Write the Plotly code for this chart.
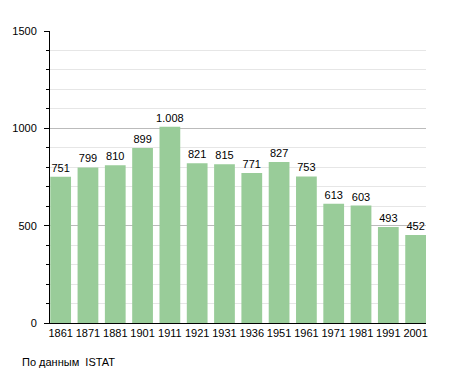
import plotly.graph_objects as go

years = ["1861", "1871", "1881", "1901", "1911", "1921", "1931", "1936", "1951", "1961", "1971", "1981", "1991", "2001"]
population = [751, 799, 810, 899, 1008, 821, 815, 771, 827, 753, 613, 603, 493, 452]
labels = ["751", "799", "810", "899", "1.008", "821", "815", "771", "827", "753", "613", "603", "493", "452"]
y_ticks = [0, 500, 1000, 1500]

fig = go.Figure()
fig.add_trace(go.Bar(
    x=years, y=population, text=labels, textposition="outside",
    textangle=0, constraintext="none",
    textfont=dict(size=11, color="black", family="Liberation Sans, Arial, sans-serif"),
    marker=dict(color="#99cc99", line=dict(width=0)),
    cliponaxis=False,
))

fig.update_layout(
    width=447, height=365,
    margin=dict(l=42, r=29, t=23, b=50, autoexpand=False),
    paper_bgcolor="white", plot_bgcolor="white",
    bargap=0.24,
    showlegend=False,
    font=dict(family="Liberation Sans, Arial, sans-serif", size=11, color="black"),
    annotations=[dict(text="По данным  ISTAT", xref="paper", yref="paper",
                      x=(20 - 50) / 376, y=-(354 - 315) / 292,
                      xanchor="left", yanchor="middle", showarrow=False,
                      font=dict(size=11, color="black"))],
)
fig.update_xaxes(type="category", range=[-0.39, 13.38], showline=True, linecolor="black", linewidth=1,
                 ticks="", showgrid=False, tickfont=dict(size=11))
fig.update_yaxes(range=[0, 1500], tickvals=y_ticks, showline=True, linecolor="black", linewidth=1,
                 ticks="outside", ticklen=5, tickcolor="black", ticklabelstandoff=5,
                 gridcolor="#bbbbbb", gridwidth=1, zeroline=False,
                 minor=dict(dtick=100, showgrid=True, gridcolor="#e6e6e6", ticks="outside", ticklen=3, tickcolor="black"),
                 tickfont=dict(size=11))

fig.write_html("out.html")
